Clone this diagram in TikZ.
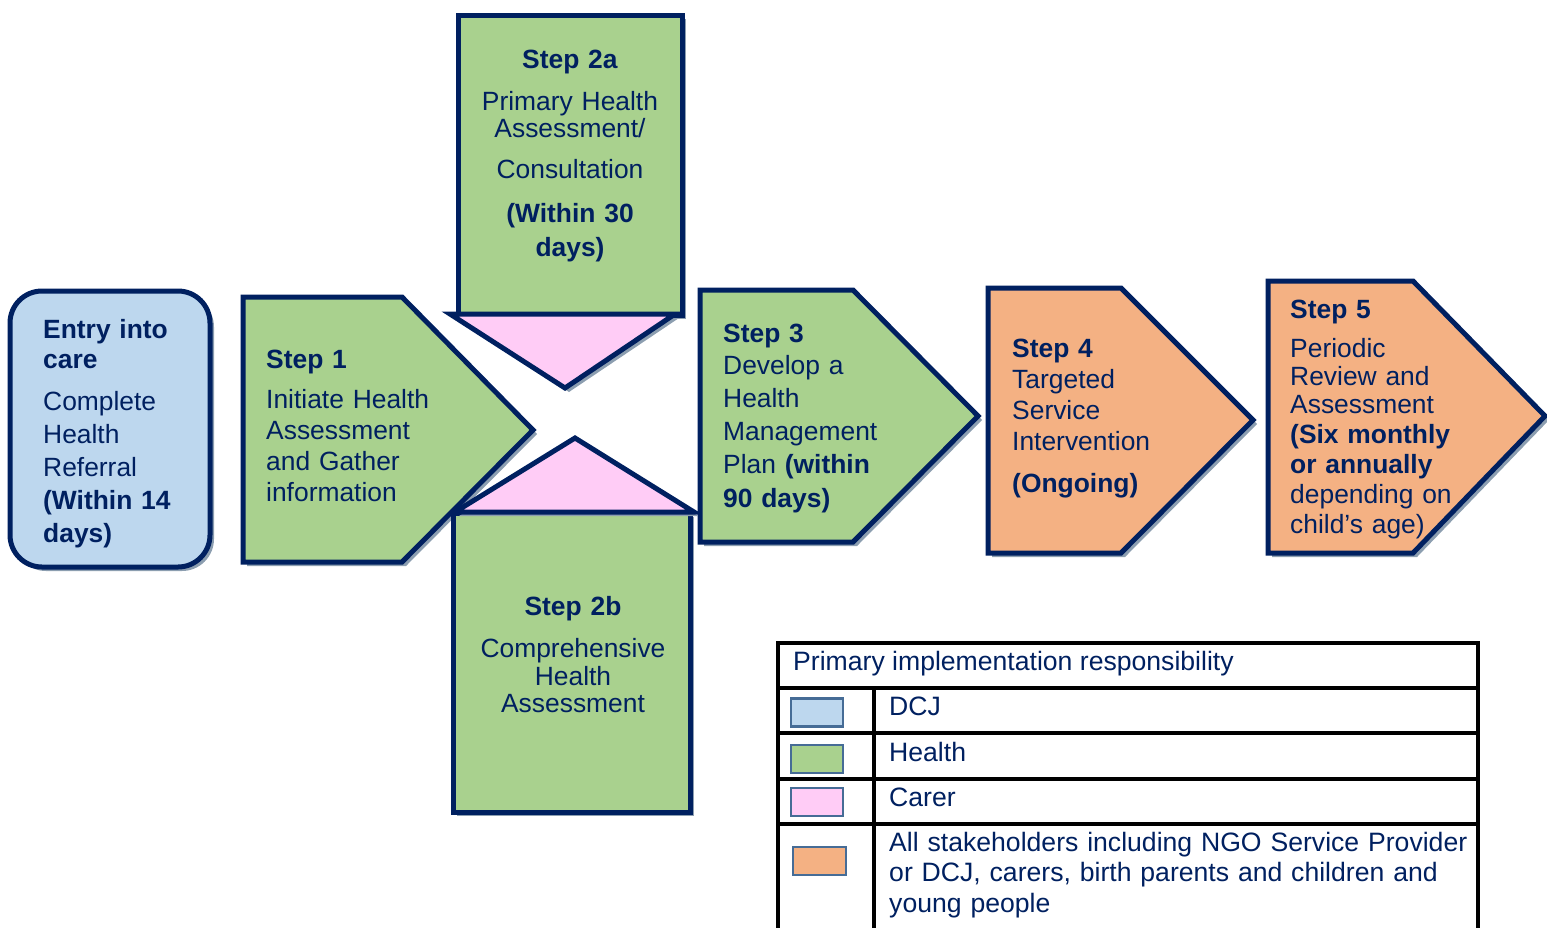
\documentclass[tikz,border=0pt]{standalone}
\usepackage{fontspec}
\setmainfont{Liberation Sans}
\usetikzlibrary{shadows}
\definecolor{navy}{RGB}{0,32,96}
\definecolor{blueF}{RGB}{189,215,238}
\definecolor{greenF}{RGB}{169,209,142}
\definecolor{pinkF}{RGB}{255,204,246}
\definecolor{orangeF}{RGB}{244,177,131}
\definecolor{shadowc}{RGB}{140,158,176}
\definecolor{swb}{RGB}{70,108,150}
\begin{document}
\begin{tikzpicture}[x=1pt,y=-1pt,
  blk/.style={draw=navy, line width=5pt, line join=miter,
    drop shadow={shadow xshift=4pt, shadow yshift=-4pt, fill=shadowc, opacity=1}},
  txt/.style={text=navy, inner sep=0pt, font=\fontsize{26.4}{31}\selectfont, align=left},
  ctxt/.style={text=navy, inner sep=0pt, font=\fontsize{26.4}{31}\selectfont, align=center},
  grid/.style={draw=black, line width=4pt},
  swatch/.style={draw=swb, line width=2.5pt, minimum width=52pt, minimum height=28pt, inner sep=0pt},
  ltxt/.style={text=navy, inner sep=0pt, font=\fontsize{26.6}{30.5}\selectfont, align=left, anchor=base west}
]
\useasboundingbox (0,0) rectangle (1547,927);

% Entry into care
\draw[blk, fill=blueF, rounded corners=32pt] (10,291) rectangle (210,567);
\node[txt, text width=160pt, anchor=base west, font=\fontsize{26.4}{33}\selectfont] (entry) at (43,338)
  {\textbf{Entry into}\\[-3pt]\textbf{care}\\[9pt]Complete\\Health\\Referral\\\textbf{(Within 14}\\\textbf{days)}};

% Step 1
\draw[blk, fill=greenF] (243,297) -- (402,297) -- (533,430) -- (402,562) -- (243,562) -- cycle;
\node[txt, text width=200pt, anchor=base west] (s1) at (266,368)
  {\textbf{Step 1}\\[9pt]Initiate Health\\Assessment\\and Gather\\information};

% Step 2a
\draw[blk, fill=greenF] (458,15) rectangle (682,315);
\draw[blk, fill=pinkF] (450,314) -- (675,314) -- (565,388) -- cycle;
\node[ctxt, text width=220pt, anchor=base] (s2a) at (570,68)
  {\textbf{Step 2a}\\[11pt]Primary Health\\[-4pt]Assessment/\\[10pt]Consultation\\[13pt]\textbf{(Within 30}\\[3pt]\textbf{days)}};

% Step 2b
\draw[blk, fill=greenF] (453,513) rectangle (690,812);
\draw[blk, fill=pinkF] (455,512) -- (575,438) -- (694,512) -- cycle;
\node[ctxt, text width=230pt, anchor=base, font=\fontsize{26.4}{28}\selectfont] (s2b) at (573,615)
  {\textbf{Step 2b}\\[14pt]Comprehensive\\Health\\[-1pt]Assessment};

% Step 3
\draw[blk, fill=greenF] (700,290) -- (853,290) -- (978,416) -- (853,542) -- (700,542) -- cycle;
\node[txt, text width=200pt, anchor=base west, font=\fontsize{26.4}{33}\selectfont] (s3) at (723,342)
  {\textbf{Step 3}\\[-1pt]Develop a\\Health\\Management\\Plan \textbf{(within}\\[1pt]\textbf{90 days)}};

% Step 4
\draw[blk, fill=orangeF] (988,288) -- (1121,288) -- (1253,420) -- (1121,553) -- (988,553) -- cycle;
\node[txt, text width=200pt, anchor=base west] (s4) at (1012,357)
  {\textbf{Step 4}\\Targeted\\Service\\Intervention\\[11pt]\textbf{(Ongoing)}};

% Step 5
\draw[blk, fill=orangeF] (1268,281) -- (1413,281) -- (1545,416) -- (1413,553) -- (1268,553) -- cycle;
\node[txt, text width=220pt, anchor=base west, font=\fontsize{26.4}{30}\selectfont] (s5) at (1290,318)
  {\textbf{Step 5}\\[9pt]Periodic\\[-2pt]Review and\\[-2pt]Assessment\\\textbf{(Six monthly}\\\textbf{or annually}\\depending on\\child’s age)};

% Legend
\draw[grid] (778,643) -- (1478,643);
\draw[grid] (778,688) -- (1478,688);
\draw[grid] (778,733) -- (1478,733);
\draw[grid] (778,779) -- (1478,779);
\draw[grid] (778,824) -- (1478,824);
\draw[grid] (778,641) -- (778,930);
\draw[grid] (1478,641) -- (1478,930);
\draw[grid] (874,688) -- (874,930);

\node[ltxt] (lhead) at (793,670) {Primary implementation responsibility};
\node[swatch, fill=blueF] (swdcj) at (817,712.5) {};
\node[swatch, fill=greenF] (swhealth) at (817,759) {};
\node[swatch, fill=pinkF] (swcarer) at (817,802) {};
\node[swatch, fill=orangeF, minimum width=53pt] (swall) at (819.5,861) {};
\node[ltxt] (ldcj) at (889,715) {DCJ};
\node[ltxt] (lhealth) at (889,761) {Health};
\node[ltxt] (lcarer) at (889,806) {Carer};
\node[ltxt, text width=590pt] (lall) at (889,851)
  {All stakeholders including NGO Service Provider\\or DCJ, carers, birth parents and children and\\young people};
\end{tikzpicture}
\end{document}
